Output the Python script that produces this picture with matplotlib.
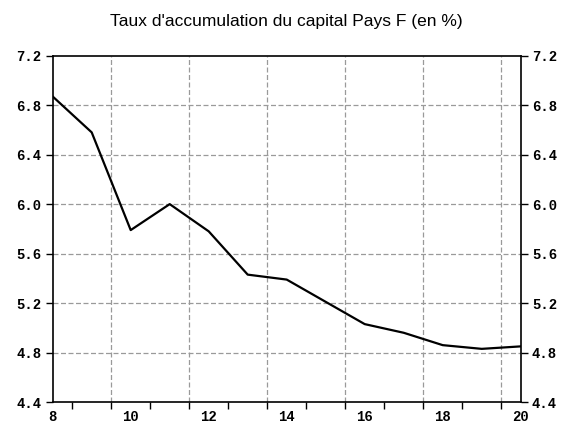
import numpy as np
import matplotlib.pyplot as plt

# Taux d'accumulation du capital, pays F (en %)
periodes = [8, 9, 10, 11, 12, 13, 14, 15, 16, 17, 18, 19, 20]
taux = [6.87, 6.58, 5.79, 6.00, 5.78, 5.43, 5.39, 5.21, 5.03, 4.96, 4.86, 4.83, 4.85]
y_ticks = [4.4, 4.8, 5.2, 5.6, 6.0, 6.4, 6.8, 7.2]
x_labels = [8, 10, 12, 14, 16, 18, 20]

fig = plt.figure(figsize=(5.63, 4.25), dpi=100)
ax = fig.add_axes([0.0936, 0.054, 0.8313, 0.815])

ax.plot(periodes, taux, color='black', linewidth=1.6)

ax.set_xlim(8, 20)
ax.set_ylim(4.4, 7.2)

# grille pointillee
for x in np.arange(9.5, 20, 2):
    ax.axvline(x, color='#9a9a9a', linestyle=(0, (4, 2)), linewidth=0.9, zorder=0)
for y in y_ticks[1:-1]:
    ax.axhline(y, color='#9a9a9a', linestyle=(0, (4, 2)), linewidth=0.9, zorder=0)

mono = dict(family='Liberation Mono', weight='bold', size=10)

ax.set_yticks(y_ticks)
ax.set_yticklabels([f'{v:.1f}' for v in y_ticks], fontdict=mono)
ax.tick_params(axis='y', direction='out', length=5, width=1, left=True, right=True,
               labelleft=True, labelright=True, pad=3)

# etiquettes sur les points, graduations entre les periodes
ax.set_xticks(x_labels)
ax.set_xticklabels([str(v) for v in x_labels], fontdict=mono)
ax.tick_params(axis='x', which='major', length=0, pad=6)
ax.set_xticks(np.arange(8.5, 20, 1), minor=True)
ax.tick_params(axis='x', which='minor', direction='out', length=5, width=1)

for s in ax.spines.values():
    s.set_linewidth(1.2)

fig.text(0.509, 0.95, "Taux d'accumulation du capital Pays F (en %)",
         ha='center', va='center', family='Liberation Sans', fontsize=12.5)

fig.savefig('out.png', dpi=100)
